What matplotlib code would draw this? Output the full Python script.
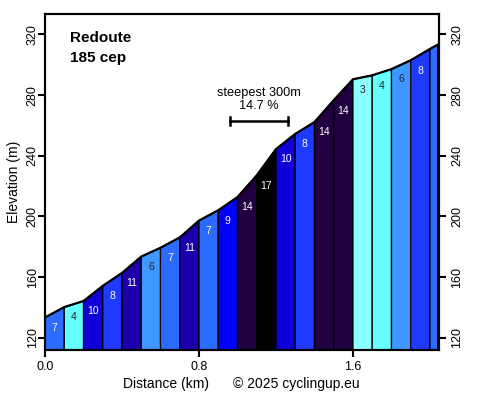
import matplotlib
matplotlib.use("Agg")
from matplotlib import pyplot as plt
from matplotlib.patches import Polygon

plt.rcParams['font.family'] = ['Liberation Sans', 'DejaVu Sans']

# climb profile, one point every 100 m (last one at the top)
dist = [0.0, 0.1, 0.2, 0.3, 0.4, 0.5, 0.6, 0.7, 0.8, 0.9, 1.0,
        1.1, 1.2, 1.3, 1.4, 1.5, 1.6, 1.7, 1.8, 1.9, 2.0, 2.04]
elev = [133.5, 140.3, 144.3, 154.3, 162.8, 173.6, 179.4, 186.2, 197.3, 204.1, 212.8,
        227.1, 244.4, 254.4, 262.2, 276.6, 290.4, 293.0, 297.1, 302.9, 310.4, 313.2]
grade = [7, 4, 10, 8, 11, 6, 7, 11, 7, 9, 14, 17, 10, 8, 14, 14, 3, 4, 6, 8, 7]

colours = {3: "#8cffff", 4: "#66ffff", 6: "#3f98ff", 7: "#2c6bff", 8: "#1e3aff",
           9: "#0000ff", 10: "#1000d8", 11: "#1a00ac", 14: "#200040", 17: "#000000"}

climb = "Redoute"
points = "185 cep"
steep_from, steep_to, steep_pct = 0.96, 1.26, 14.7

fig = plt.figure(figsize=(4.79, 3.96), dpi=100)
ax = fig.add_axes([0.094, 0.116, 0.8225, 0.849])
ymin, ymax = 112, 333.5

for i, g in enumerate(grade):
    x0, x1 = dist[i], dist[i + 1]
    poly = Polygon([(x0, ymin), (x0, elev[i]), (x1, elev[i + 1]), (x1, ymin)],
                   closed=True, facecolor=colours[g], edgecolor="black", lw=0.9)
    ax.add_patch(poly)
    if x1 - x0 > 0.08:
        ax.text((x0 + x1) / 2, elev[i] - 6.8, str(g), ha="center", va="center",
                fontsize=7.5, color="white" if g >= 7 else "#222222")

ax.plot(dist, elev, color="black", lw=1.6)

# steepest part
ybar = 263
ax.plot([steep_from, steep_to], [ybar, ybar], color="black", lw=1.8)
ax.plot([steep_from, steep_from], [ybar - 2.8, ybar + 2.8], color="black", lw=1.8)
ax.plot([steep_to, steep_to], [ybar - 2.8, ybar + 2.8], color="black", lw=1.8)
mid = (steep_from + steep_to) / 2
ax.text(mid, 281.5, "steepest 300m", ha="center", va="center", fontsize=9.2)
ax.text(mid, 272.6, f"{steep_pct} %", ha="center", va="center", fontsize=9.2)

ax.text(0.13, 317.5, climb, ha="left", va="center", fontsize=11, fontweight="bold")
ax.text(0.13, 304.3, points, ha="left", va="center", fontsize=11, fontweight="bold")

ax.set_xlim(0, 2.047)
ax.set_ylim(ymin, ymax)
ax.set_xticks([0.0, 0.8, 1.6])
ax.set_xticklabels(["0.0", "0.8", "1.6"])
ax.set_yticks(range(120, 321, 40))
ax.tick_params(axis="both", direction="out", length=5, width=1.5, labelsize=9)
ax.tick_params(axis="x", pad=3)
ax.tick_params(axis="y", labelrotation=90, pad=-0.5)
for lab in ax.get_yticklabels():
    lab.set_va("center")
for s in ax.spines.values():
    s.set_linewidth(1.5)

# right hand axis, same scale
ax2 = ax.twinx()
ax2.set_ylim(ymin, ymax)
ax2.set_yticks(range(120, 321, 40))
ax2.tick_params(axis="y", direction="out", length=5, width=1.5, labelsize=9,
                labelrotation=90, pad=4)
for lab in ax2.get_yticklabels():
    lab.set_va("center")
for s in ax2.spines.values():
    s.set_linewidth(1.5)

ax.set_ylabel("Elevation (m)", fontsize=10)
ax.yaxis.set_label_coords(-0.061, 0.5)
fig.text(0.347, 0.030, "Distance (km)", ha="center", va="center", fontsize=10)
fig.text(0.486, 0.030, "© 2025 cyclingup.eu", ha="left", va="center", fontsize=10)

fig.savefig("out.png", dpi=100)
